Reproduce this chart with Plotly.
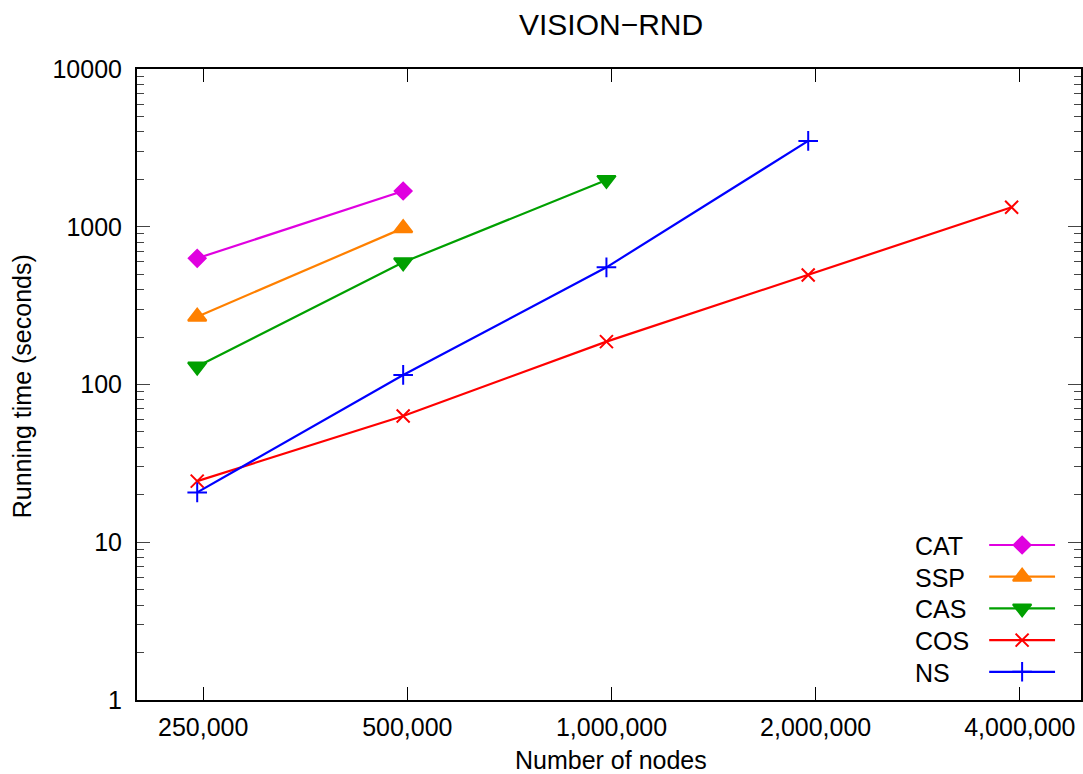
import math
import plotly.graph_objects as go

# Number of nodes per test graph and running times (seconds)
nodes = [245000, 493000, 983000, 1950000, 3890000]
cat_time = [631, 1685]
ssp_time = [269, 980]
cas_time = [130, 595, 1980]
cos_time = [24.4, 63.1, 187, 494, 1328]
ns_time = [20.7, 115, 553, 3500]

series_names = ["CAT", "SSP", "CAS", "COS", "NS"]

x_tick_vals = [250000, 500000, 1000000, 2000000, 4000000]
x_tick_text = ["250,000", "500,000", "1,000,000", "2,000,000", "4,000,000"]
y_tick_vals = [1, 10, 100, 1000, 10000]
y_tick_text = ["1", "10", "100", "1000", "10000"]

FONT = "Liberation Sans, Arial, Helvetica, sans-serif"
FS = 25
W, H = 1083, 774
L, R, T, B = 137, 0, 69, 74
px_left, px_right = L, W - R
px_top, px_bottom = T, H - B


def paper_x(px):
    return (px - px_left) / (px_right - px_left)


def paper_y(py):
    return (px_bottom - py) / (px_bottom - px_top)


styles = {
    "CAT": dict(color="#e000e0", marker=dict(symbol="diamond", size=13)),
    "SSP": dict(color="#ff8000", marker=dict(symbol="triangle-up", size=16)),
    "CAS": dict(color="#00a000", marker=dict(symbol="triangle-down", size=16)),
    "COS": dict(color="#ff0000", marker=dict(symbol="x-thin", size=13)),
    "NS": dict(color="#0000ff", marker=dict(symbol="cross-thin", size=14)),
}
values = {"CAT": cat_time, "SSP": ssp_time, "CAS": cas_time,
          "COS": cos_time, "NS": ns_time}

fig = go.Figure()

for name in series_names:
    st = styles[name]
    ys = values[name]
    mk = dict(st["marker"], color=st["color"], line=dict(color=st["color"], width=2))
    fig.add_trace(go.Scatter(
        x=nodes[:len(ys)], y=ys, mode="lines+markers", name=name,
        line=dict(color=st["color"], width=2.2), marker=mk, showlegend=False,
    ))

# Key drawn on a pixel-based overlay: label text on the left, sample on the right
key_y0, key_dy = 545, 31.7
key_text_x, key_line = 915, (991, 1057)
annotations = []
for i, name in enumerate(series_names):
    st = styles[name]
    yy = key_y0 + i * key_dy
    fig.add_trace(go.Scatter(
        x=list(key_line), y=[yy, yy], mode="lines", xaxis="x2", yaxis="y2",
        line=dict(color=st["color"], width=2.2), showlegend=False, hoverinfo="skip",
    ))
    mk = dict(st["marker"], color=st["color"], line=dict(color=st["color"], width=2))
    fig.add_trace(go.Scatter(
        x=[(key_line[0] + key_line[1]) / 2], y=[yy], mode="markers",
        xaxis="x2", yaxis="y2", marker=mk, showlegend=False, hoverinfo="skip",
    ))
    annotations.append(dict(
        x=paper_x(key_text_x), y=paper_y(yy + 1), xref="paper", yref="paper",
        text=name, showarrow=False, xanchor="left", yanchor="middle",
        font=dict(family=FONT, size=FS, color="black"),
    ))

annotations += [
    dict(x=paper_x(612), y=paper_y(24), xref="paper", yref="paper",
         text="VISION\u2212RND", showarrow=False, xanchor="center", yanchor="middle",
         font=dict(family=FONT, size=30, color="black")),
    dict(x=paper_x(612), y=paper_y(759.5), xref="paper", yref="paper",
         text="Number of nodes", showarrow=False, xanchor="center", yanchor="middle",
         font=dict(family=FONT, size=FS, color="black")),
    dict(x=paper_x(22), y=paper_y(386), xref="paper", yref="paper",
         text="Running time (seconds)", showarrow=False, textangle=-90,
         xanchor="center", yanchor="middle",
         font=dict(family=FONT, size=FS, color="black")),
]

px_per_decade_x = 204.6 / math.log10(2)
x_lo = math.log10(250000) - (203.3 - px_left) / px_per_decade_x
x_hi = x_lo + (px_right - px_left) / px_per_decade_x

fig.update_layout(
    width=W, height=H,
    margin=dict(l=L, r=R, t=T, b=B, pad=0),
    paper_bgcolor="white", plot_bgcolor="white",
    font=dict(family=FONT, size=FS, color="black"),
    showlegend=False,
    annotations=annotations,
    xaxis=dict(
        type="log", range=[x_lo, x_hi], tickvals=x_tick_vals, ticktext=x_tick_text,
        ticks="inside", ticklen=13, tickwidth=1, tickcolor="black",
        showline=True, linecolor="black", linewidth=2, mirror="allticks",
        showgrid=False, zeroline=False, ticklabelstandoff=4,
        tickfont=dict(family=FONT, size=FS, color="black"),
    ),
    yaxis=dict(
        type="log", range=[0, 4], tickvals=y_tick_vals, ticktext=y_tick_text,
        ticks="inside", ticklen=13, tickwidth=1, tickcolor="#444",
        minor=dict(ticks="inside", ticklen=7, tickwidth=1, tickcolor="#444",
                   dtick="D1", showgrid=False),
        showline=True, linecolor="black", linewidth=2, mirror="allticks",
        showgrid=False, zeroline=False, ticklabelstandoff=8,
        tickfont=dict(family=FONT, size=FS, color="black"),
    ),
    xaxis2=dict(overlaying="x", range=[px_left, px_right], visible=False,
                showgrid=False, zeroline=False),
    yaxis2=dict(overlaying="y", range=[px_bottom, px_top], visible=False,
                showgrid=False, zeroline=False),
)

fig.write_html("out.html")
